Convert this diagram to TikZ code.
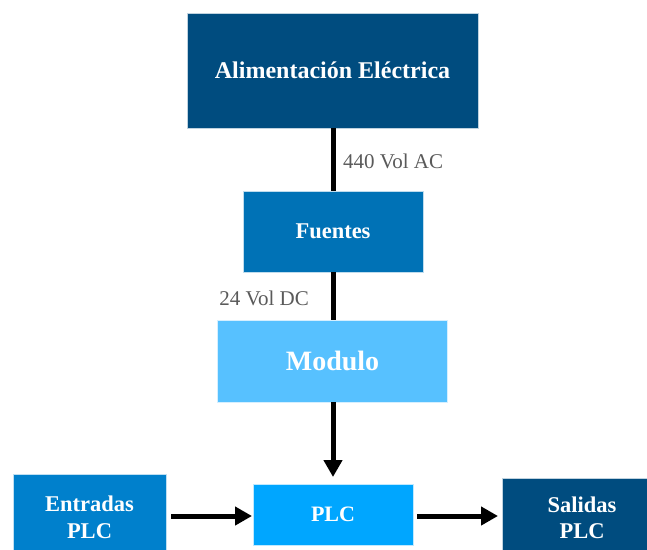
\documentclass[tikz,border=0pt]{standalone}
\usepackage{fontspec}
\setmainfont{Liberation Serif}
\usetikzlibrary{arrows.meta}
\definecolor{cdark}{HTML}{004C7F}
\definecolor{cmid}{HTML}{0072B6}
\definecolor{clight}{HTML}{57C1FF}
\definecolor{cplc}{HTML}{00A6FF}
\definecolor{centr}{HTML}{0080CC}
\definecolor{cgray}{HTML}{5A5A5A}
\tikzset{
  blk/.style={rectangle, draw=white!75!#1, line width=0.6pt, fill=#1, text=white,
    font=\bfseries, inner sep=0pt, align=center},
  lbl/.style={text=cgray, font=\fontsize{21}{24}\selectfont, inner sep=0pt},
  wire/.style={line width=5pt, black},
  arr/.style={wire, -{Triangle[length=17pt,width=18pt]}}
}
\begin{document}
\begin{tikzpicture}[x=1pt,y=-1pt]
\useasboundingbox (0,0) rectangle (647,549);
\node[blk=cdark, minimum width=291pt, minimum height=115pt,
  font=\bfseries\fontsize{24}{28}\selectfont] (ali) at (332.5,70.5) {Alimentación Eléctrica};
\node[blk=cmid, minimum width=180pt, minimum height=81pt,
  font=\bfseries\fontsize{22.5}{26}\selectfont] (fue) at (333,231.5) {Fuentes};
\node[blk=clight, minimum width=230pt, minimum height=82pt,
  font=\bfseries\fontsize{28}{32}\selectfont] (mod) at (332.5,361) {Modulo};
\node[blk=cplc, minimum width=160pt, minimum height=61pt,
  font=\bfseries\fontsize{22}{26}\selectfont] (plc) at (333,514.5) {PLC};
\node[blk=centr, minimum width=153pt, minimum height=86pt,
  font=\bfseries\fontsize{22.5}{27}\selectfont] (ent) at (89.5,517) {Entradas\\PLC};
\node[blk=cdark, minimum width=160pt, minimum height=80pt,
  font=\bfseries\fontsize{22.5}{26}\selectfont] (sal) at (582,518) {Salidas\\PLC};
\draw[wire] (ali.south -| 333,0) -- (fue.north -| 333,0);
\draw[wire] (fue.south -| 333,0) -- (mod.north -| 333,0);
\draw[arr] (mod.south -| 333,0) -- (333,477);
\draw[arr] (171,516) -- (252,516);
\draw[arr] (417,516) -- (498,516);
\node[lbl, anchor=west] (l1) at (343,161) {440 Vol AC};
\node[lbl, anchor=east] (l2) at (309,298) {24 Vol DC};
\end{tikzpicture}
\end{document}
